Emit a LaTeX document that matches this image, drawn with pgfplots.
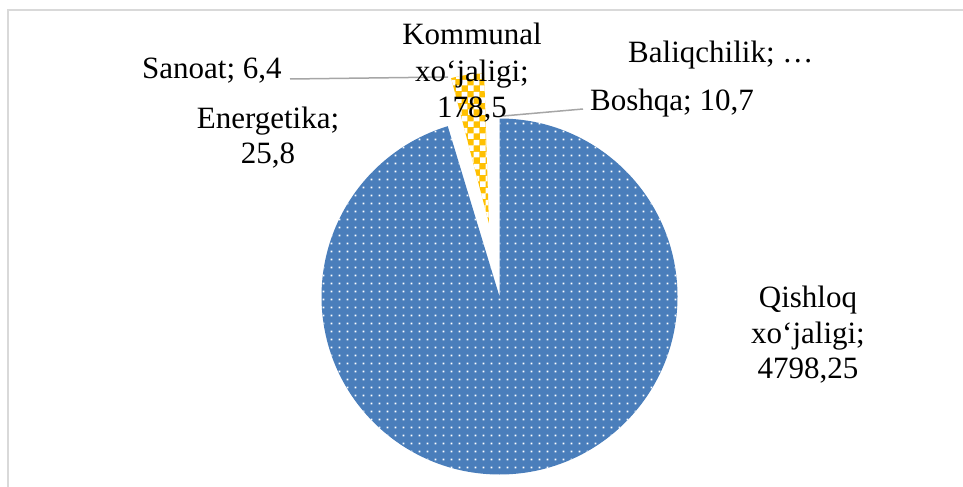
\documentclass[border=0pt]{standalone}
\usepackage{pgfplots}
\pgfplotsset{compat=1.18}
\usepackage{pgfplotstable}
\usetikzlibrary{patterns.meta}
\usepackage{fontspec}
\setmainfont{Liberation Serif}
\definecolor{pieblue}{HTML}{4A7EBB}
\definecolor{pieyellow}{HTML}{FFC000}
\definecolor{framegray}{HTML}{D9D9D9}
\definecolor{leadergray}{HTML}{A6A6A6}

\pgfdeclarepattern{
  name=whitedots,
  type=uncolored,
  bottom left={\pgfpointorigin},
  top right={\pgfpoint{8bp}{8bp}},
  tile size={\pgfpoint{8bp}{8bp}},
  code={\pgfpathrectangle{\pgfpoint{3bp}{3bp}}{\pgfpoint{2bp}{2bp}}\pgfusepath{fill}}
}
\pgfdeclarepattern{
  name=bigchecker,
  type=uncolored,
  bottom left={\pgfpointorigin},
  top right={\pgfpoint{12bp}{12bp}},
  tile size={\pgfpoint{12bp}{12bp}},
  code={\pgfpathrectangle{\pgfpointorigin}{\pgfpoint{6bp}{6bp}}\pgfpathrectangle{\pgfpoint{6bp}{6bp}}{\pgfpoint{6bp}{6bp}}\pgfusepath{fill}}
}

% values of the slices, clockwise from 12 o'clock
\pgfplotstableread{
label value
Qishloq 4798.25
Energetika 25.8
Sanoat 6.4
Kommunal 178.5
Baliqchilik 15
Boshqa 10.7
}\piedata

\newcommand\lbl{\fontsize{31bp}{36bp}\selectfont}

\begin{document}
\begin{tikzpicture}
\pgfplotstablegetelem{0}{value}\of\piedata\let\vA\pgfplotsretval
\pgfplotstablegetelem{1}{value}\of\piedata\let\vB\pgfplotsretval
\pgfplotstablegetelem{2}{value}\of\piedata\let\vC\pgfplotsretval
\pgfplotstablegetelem{3}{value}\of\piedata\let\vD\pgfplotsretval
\pgfplotstablegetelem{4}{value}\of\piedata\let\vE\pgfplotsretval
\pgfplotstablegetelem{5}{value}\of\piedata\let\vF\pgfplotsretval
\pgfmathsetmacro\tot{\vA+\vB+\vC+\vD+\vE+\vF}
\pgfmathsetmacro\aA{\vA/\tot*360}
\pgfmathsetmacro\aB{\vB/\tot*360}
\pgfmathsetmacro\aC{\vC/\tot*360}
\pgfmathsetmacro\aD{\vD/\tot*360}
\pgfmathsetmacro\sD{\aA+\aB+\aC}
\pgfmathsetmacro\mD{\sD+\aD/2}
\pgfmathsetmacro\tipx{499.5+74*cos(90-\mD)}
\pgfmathsetmacro\tipy{296.5-74*sin(90-\mD)}
\pgfmathsetmacro\kStart{90-\sD}
\pgfmathsetmacro\kEnd{90-\sD-\aD}
\pgfmathsetmacro\qEnd{90-\aA}
\begin{axis}[
  scale only axis, width=963bp, height=487bp,
  xmin=0, xmax=963, ymin=0, ymax=487, y dir=reverse,
  xtick=\empty, ytick=\empty,
  hide axis, clip=false]
% frame
\draw[framegray, line width=1.5bp] (axis cs:8,487) -- (axis cs:8,10) -- (axis cs:963,10);
% Qishloq xo'jaligi slice
\path[preaction={fill=pieblue}, pattern=whitedots, pattern color=white]
  (axis cs:499.5,296.5) -- ++(90:178bp)
  arc[start angle=90, end angle=\qEnd, radius=178bp] -- cycle;
% Kommunal xo'jaligi slice (exploded)
\path[preaction={fill=pieyellow}, pattern=bigchecker, pattern color=white]
  (axis cs:\tipx,\tipy) -- ++(\kStart:150bp)
  arc[start angle=\kStart, end angle=\kEnd, radius=150bp] -- cycle;
% leader lines
\draw[leadergray, line width=1.5bp] (axis cs:290,79) -- (axis cs:448,77);
\draw[leadergray, line width=1.5bp] (axis cs:583,109) -- (axis cs:503,116);
% labels
\begin{scope}[every node/.style={font=\lbl, inner sep=0pt}]
\node[anchor=base] at (axis cs:472,45) {Kommunal};
\node[anchor=base] at (axis cs:472,82) {xo‘jaligi;};
\node[anchor=base] at (axis cs:472,117) {178,5};
\node[anchor=base west] at (axis cs:142,79) {Sanoat; 6,4};
\node[anchor=base] at (axis cs:268,128) {Energetika;};
\node[anchor=base] at (axis cs:268,163) {25,8};
\node[anchor=base west] at (axis cs:628,63) {Baliqchilik; …};
\node[anchor=base west] at (axis cs:590,110) {Boshqa; 10,7};
\node[anchor=base] at (axis cs:808,307) {Qishloq};
\node[anchor=base] at (axis cs:808,343) {xo‘jaligi;};
\node[anchor=base] at (axis cs:808,378) {4798,25};
\end{scope}
\end{axis}
\pgfresetboundingbox
\path (current axis.south west) rectangle (current axis.north east);
\end{tikzpicture}
\end{document}
